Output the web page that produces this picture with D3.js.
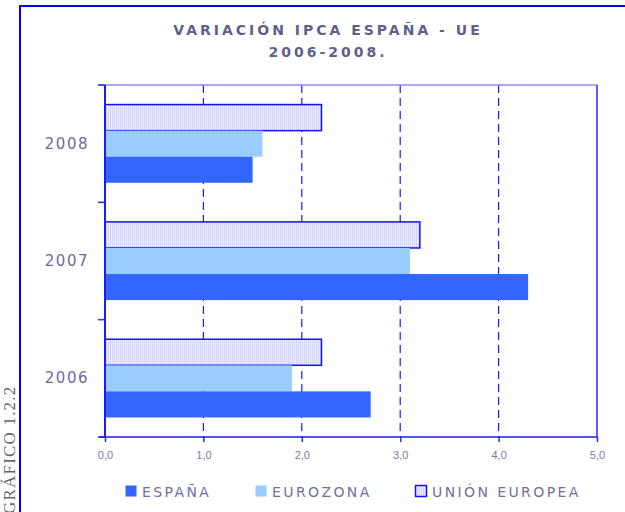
<!DOCTYPE html>
<html>
    <head>
        <meta charset="utf-8">
        <style>
            html, body {
                margin: 0px;
                padding: 0px;
                background-color: #fff;
                font-family: "DejaVu Sans", Verdana, sans-serif;
            }

            svg text {
                fill: #6b6b99;
            }

            .title {
                font-size: 14px;
                font-weight: bold;
                letter-spacing: 3px;
                fill: #5f5f8c;
            }

            .xAxis text {
                font-size: 11px;
                fill: #7a7aa8;
            }

            .yLabel {
                font-size: 15px;
                letter-spacing: 1.5px;
            }

            .legend text {
                font-size: 14px;
                letter-spacing: 2.4px;
                fill: #707099;
            }

            .side {
                font-family: "Liberation Serif", "DejaVu Serif", serif;
                font-size: 17px;
                fill: #666;
                letter-spacing: 1.2px;
            }
        </style>
        <script src="https://cdn.jsdelivr.net/npm/d3@7"></script>
    </head>
    <body>
        <div id="main"></div>

        <script>
            var years = ["2008", "2007", "2006"];
            var series = ["UNIÓN EUROPEA", "EUROZONA", "ESPAÑA"];
            var espana = [1.5, 4.3, 2.7];
            var eurozona = [1.6, 3.1, 1.9];
            var unionEuropea = [2.2, 3.2, 2.2];
            var xTicks = [0, 1, 2, 3, 4, 5];
            var legendOrder = ["ESPAÑA", "EUROZONA", "UNIÓN EUROPEA"];

            var width = 625;
            var height = 512;
            var plotLeft = 105, plotRight = 597, plotTop = 85, plotBottom = 437;

            var colors = {
                "ESPAÑA": "#3366ff",
                "EUROZONA": "#99ccff",
                "UNIÓN EUROPEA": "url(#ueFill)"
            };

            function main() {
                var svg = d3.select("#main")
                    .append("svg")
                    .attr("width", width)
                    .attr("height", height);

                var pattern = svg.append("defs").append("pattern")
                    .attr("id", "ueFill")
                    .attr("patternUnits", "userSpaceOnUse")
                    .attr("width", 2)
                    .attr("height", 4);
                pattern.append("rect").attr("width", 2).attr("height", 4).attr("fill", "#ececff");
                pattern.append("rect").attr("width", 1).attr("height", 4).attr("fill", "#d4d4f6");

                // outer frame
                svg.append("rect")
                    .attr("x", 20).attr("y", 6)
                    .attr("width", 700).attr("height", 600)
                    .attr("fill", "none")
                    .attr("stroke", "#0000ff")
                    .attr("stroke-width", 2);

                svg.append("text")
                    .attr("class", "side")
                    .attr("transform", "translate(15,514) rotate(-90)")
                    .text("GRÁFICO 1.2.2");

                svg.append("text").attr("class", "title")
                    .attr("x", 328).attr("y", 35)
                    .attr("text-anchor", "middle")
                    .text("VARIACIÓN IPCA ESPAÑA - UE");
                svg.append("text").attr("class", "title")
                    .attr("x", 328).attr("y", 57)
                    .attr("text-anchor", "middle")
                    .text("2006-2008.");

                var x = d3.scaleLinear().domain([0, 5]).range([plotLeft, plotRight]);
                var y = d3.scaleBand().domain(years).range([plotTop, plotBottom]);
                var sub = d3.scaleBand().domain(series).range([0, y.bandwidth()]).paddingOuter(0.75);

                // grid
                svg.append("g")
                    .selectAll("line")
                    .data(xTicks.slice(1, 5))
                    .enter()
                    .append("line")
                    .attr("x1", function(d) { return x(d); })
                    .attr("x2", function(d) { return x(d); })
                    .attr("y1", plotTop).attr("y2", plotBottom)
                    .attr("stroke", "#1a1aff")
                    .attr("stroke-width", 1.2)
                    .attr("stroke-dasharray", "8,5");

                // top & right frame of plot
                svg.append("line")
                    .attr("x1", plotLeft - 6).attr("x2", plotRight)
                    .attr("y1", plotTop).attr("y2", plotTop)
                    .attr("stroke", "#8c8cff").attr("stroke-width", 1.5);
                svg.append("line")
                    .attr("x1", plotRight).attr("x2", plotRight)
                    .attr("y1", plotTop).attr("y2", plotBottom)
                    .attr("stroke", "#2a2aff").attr("stroke-width", 1.5);

                var data = years.map(function(yr, i) {
                    return {
                        year: yr,
                        values: [
                            { key: "UNIÓN EUROPEA", value: unionEuropea[i] },
                            { key: "EUROZONA", value: eurozona[i] },
                            { key: "ESPAÑA", value: espana[i] }
                        ]
                    };
                });

                var groups = svg.selectAll("g.year")
                    .data(data)
                    .enter()
                    .append("g")
                    .attr("class", "year")
                    .attr("transform", function(d) { return "translate(0," + y(d.year) + ")"; });

                groups.selectAll("rect")
                    .data(function(d) { return d.values; })
                    .enter()
                    .append("rect")
                    .attr("x", x(0))
                    .attr("y", function(d) { return sub(d.key); })
                    .attr("width", function(d) { return x(d.value) - x(0); })
                    .attr("height", sub.bandwidth())
                    .attr("fill", function(d) { return colors[d.key]; })
                    .attr("stroke", function(d) { return d.key == "UNIÓN EUROPEA" ? "#1010ff" : "none"; })
                    .attr("stroke-width", 1.5);

                groups.append("text")
                    .attr("class", "yLabel")
                    .attr("x", 89)
                    .attr("y", y.bandwidth() / 2 + 5)
                    .attr("text-anchor", "end")
                    .text(function(d) { return d.year; });

                // y axis with ticks at band edges
                var yEdges = years.map(function(d) { return y(d); }).concat([plotBottom]);
                svg.append("g").selectAll("line")
                    .data(yEdges)
                    .enter()
                    .append("line")
                    .attr("x1", plotLeft - 7).attr("x2", plotLeft)
                    .attr("y1", function(d) { return d; })
                    .attr("y2", function(d) { return d; })
                    .attr("stroke", "#2a2aff").attr("stroke-width", 1.5);
                svg.append("line")
                    .attr("x1", plotLeft).attr("x2", plotLeft)
                    .attr("y1", plotTop).attr("y2", plotBottom)
                    .attr("stroke", "#1a1aff").attr("stroke-width", 2);

                // x axis
                var xAxis = svg.append("g")
                    .attr("class", "xAxis")
                    .attr("transform", "translate(0," + plotBottom + ")")
                    .call(d3.axisBottom(x)
                        .tickValues(xTicks)
                        .tickSize(5)
                        .tickPadding(9)
                        .tickFormat(function(d) { return d3.format(".1f")(d).replace(".", ","); }));
                xAxis.select(".domain").remove();
                xAxis.selectAll("line").attr("stroke", "#2a2aff").attr("stroke-width", 1.5);
                xAxis.selectAll("text").style("font-family", "'Liberation Sans', Arial, sans-serif");
                svg.append("line")
                    .attr("x1", plotLeft - 6).attr("x2", plotRight)
                    .attr("y1", plotBottom).attr("y2", plotBottom)
                    .attr("stroke", "#1a1aff").attr("stroke-width", 1.5);

                // legend
                var legendX = d3.scaleOrdinal().domain(legendOrder).range([125, 255, 415]);
                var lg = svg.append("g").attr("class", "legend")
                    .selectAll("g")
                    .data(legendOrder)
                    .enter()
                    .append("g")
                    .attr("transform", function(d) { return "translate(" + legendX(d) + ",485)"; });
                lg.append("rect")
                    .attr("x", 0.5).attr("y", 0.5)
                    .attr("width", 11).attr("height", 11)
                    .attr("fill", function(d) { return colors[d]; })
                    .attr("stroke", function(d) { return d == "UNIÓN EUROPEA" ? "#1010ff" : "none"; })
                    .attr("stroke-width", 1.5);
                lg.append("text")
                    .attr("x", 17)
                    .attr("y", 12)
                    .text(function(d) { return d; });
            }

            main();
        </script>
    </body>
</html>
